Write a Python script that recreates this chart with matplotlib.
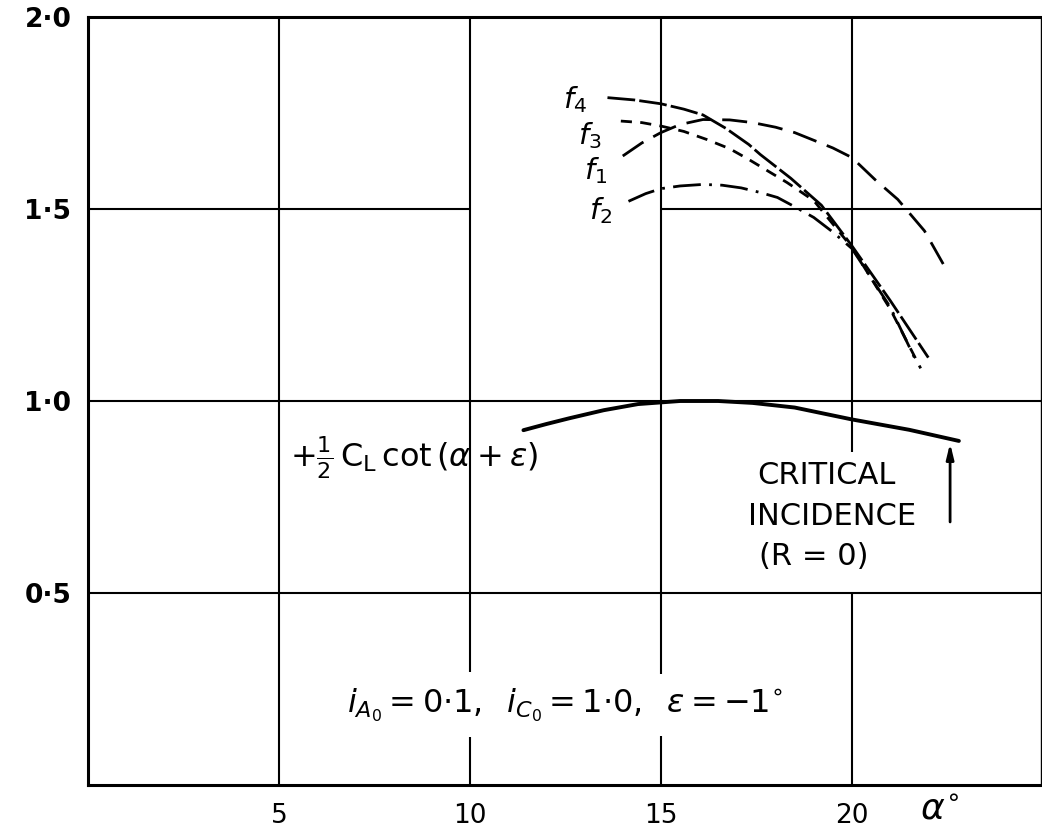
import matplotlib
matplotlib.use('Agg')
import matplotlib.pyplot as plt

plt.rcParams['font.family'] = ['DejaVu Sans']
plt.rcParams['mathtext.fontset'] = 'dejavusans'

# curves (alpha in degrees)
f4_x = [13.6, 14.3, 15.0, 15.6, 16.1, 16.7, 17.3, 17.6, 18.4, 19.2, 20.0, 21.0, 22.0]
f4_y = [1.790, 1.784, 1.774, 1.760, 1.745, 1.710, 1.668, 1.642, 1.580, 1.510, 1.404, 1.262, 1.113]

f3_x = [13.95, 14.5, 15.0, 15.6, 16.2, 16.8, 17.3, 18.3, 19.0, 20.0, 21.0, 21.8]
f3_y = [1.729, 1.725, 1.716, 1.702, 1.681, 1.657, 1.629, 1.569, 1.522, 1.400, 1.240, 1.085]

f1_x = [14.0, 14.5, 15.0, 15.5, 16.1, 16.8, 17.4, 18.0, 18.5, 19.0, 19.5, 20.0, 20.6, 21.2, 21.9, 22.4]
f1_y = [1.638, 1.672, 1.699, 1.720, 1.733, 1.732, 1.725, 1.713, 1.699, 1.679, 1.659, 1.634, 1.577, 1.525, 1.443, 1.355]

f2_x = [14.15, 14.6, 15.0, 15.5, 16.1, 16.6, 17.1, 17.6, 18.05, 18.5, 19.0, 19.5, 20.0, 21.0, 21.7]
f2_y = [1.520, 1.540, 1.553, 1.560, 1.564, 1.562, 1.555, 1.543, 1.530, 1.506, 1.478, 1.440, 1.397, 1.245, 1.100]

cot_x = [11.4, 12.0, 12.6, 13.5, 14.4, 15.5, 16.5, 17.4, 18.5, 20.0, 21.5, 22.8]
cot_y = [0.924, 0.940, 0.955, 0.976, 0.992, 1.0, 1.0, 0.995, 0.983, 0.952, 0.925, 0.896]

x_ticks = [5, 10, 15, 20]
x_labels = ['5', '10', '15', '20']
y_ticks = [0.5, 1.0, 1.5, 2.0]
y_labels = ['0·5', '1·0', '1·5', '2·0']

critical_alpha = 22.57

fig = plt.figure(figsize=(10.42, 8.30), dpi=100)
ax = fig.add_axes([88 / 1042, 45 / 830, 953 / 1042, 768 / 830])
ax.set_xlim(0, 24.95)
ax.set_ylim(0, 2.0)

# grid drawn by hand, some lines are broken round the lettering
vgaps = {10: (0.125, 0.294), 15: (0.128, 0.29), 20: (0.5, 0.868)}
for gx in x_ticks:
    if gx in vgaps:
        lo, hi = vgaps[gx]
        ax.vlines([gx, gx], [0, hi], [lo, 2.0], color='black', lw=1.5)
    else:
        ax.vlines(gx, 0, 2.0, color='black', lw=1.5)
hgaps = {1.5: (10, 15)}
for gy in y_ticks[:-1]:
    if gy in hgaps:
        lo, hi = hgaps[gy]
        ax.hlines([gy, gy], [0, hi], [lo, 24.95], color='black', lw=1.5)
    else:
        ax.hlines(gy, 0, 24.95, color='black', lw=1.5)

ax.plot(f4_x, f4_y, color='black', lw=2, ls=(0, (10, 1.5)))
ax.plot(f3_x, f3_y, color='black', lw=2, ls=(0, (4, 3)))
ax.plot(f1_x, f1_y, color='black', lw=2, ls=(0, (9, 4)))
ax.plot(f2_x, f2_y, color='black', lw=2, ls=(0, (10, 3, 1, 3)))
ax.plot(cot_x, cot_y, color='black', lw=2.8, solid_capstyle='round')

for s in ['left', 'bottom', 'top']:
    ax.spines[s].set_linewidth(2.2)
ax.spines['right'].set_linewidth(1.0)

ax.set_xticks(x_ticks, x_labels, fontsize=19)
ax.set_yticks(y_ticks, y_labels, fontsize=19, fontweight='bold')
ax.tick_params(axis='x', length=0, pad=13)
ax.tick_params(axis='y', length=0, pad=12)
ax.text(22.3, -0.065, r'$\alpha^{\circ}$', fontsize=26, ha='center', va='center', clip_on=False)

# labels
lab = dict(fontsize=21, ha='center', va='center')
ax.text(12.75, 1.784, r'$f_4$', **lab)
ax.text(13.14, 1.690, r'$f_3$', **lab)
ax.text(13.30, 1.599, r'$f_1$', **lab)
ax.text(13.43, 1.497, r'$f_2$', **lab)

ax.text(5.29, 0.852, r'$+\frac{1}{2}\,\mathrm{C_L}\,\mathrm{cot}\,(\alpha+\varepsilon)$',
        fontsize=23, ha='left', va='center')

ax.text(19.32, 0.805, 'CRITICAL', fontsize=22, ha='center', va='center')
ax.text(19.48, 0.698, 'INCIDENCE', fontsize=22, ha='center', va='center')
ax.text(19.0, 0.596, '(R = 0)', fontsize=22, ha='center', va='center')

ax.annotate('', xy=(critical_alpha, 0.89), xytext=(critical_alpha, 0.685),
            arrowprops=dict(arrowstyle='-|>,head_width=0.22,head_length=0.9',
                            lw=2, color='black', shrinkA=0, shrinkB=0))

ax.text(12.49, 0.206,
        r'$i_{A_0} = 0{\cdot}1,\;\; i_{C_0} = 1{\cdot}0,\;\; \varepsilon = -1^{\circ}$',
        fontsize=23, ha='center', va='center')

fig.savefig('out.png', dpi=100)
